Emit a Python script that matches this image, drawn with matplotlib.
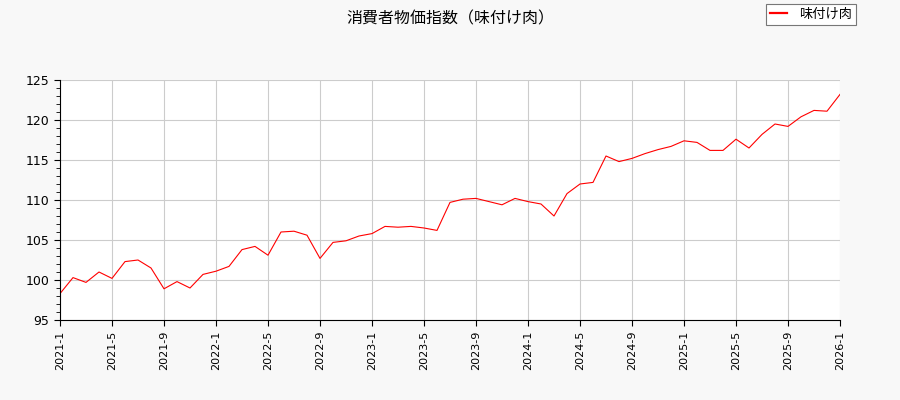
import matplotlib
matplotlib.use("Agg")
import matplotlib.pyplot as plt
from matplotlib.ticker import MultipleLocator

plt.rcParams['font.family'] = ['Noto Sans CJK JP', 'DejaVu Sans']

title = "消費者物価指数（味付け肉）"
series_name = "味付け肉"

# monthly from 2021-1 to 2026-1
months = [f"{2021 + i // 12}-{i % 12 + 1}" for i in range(61)]
values = [
    98.3, 100.3, 99.7, 101.0, 100.2, 102.3, 102.5, 101.5, 98.9, 99.8,
    99.0, 100.7, 101.1, 101.7, 103.8, 104.2, 103.1, 106.0, 106.1, 105.6,
    102.7, 104.7, 104.9, 105.5, 105.8, 106.7, 106.6, 106.7, 106.5, 106.2,
    109.7, 110.1, 110.2, 109.8, 109.4, 110.2, 109.8, 109.5, 108.0, 110.8,
    112.0, 112.2, 115.5, 114.8, 115.2, 115.8, 116.3, 116.7, 117.4, 117.2,
    116.2, 116.2, 117.6, 116.5, 118.2, 119.5, 119.2, 120.4, 121.2, 121.1,
    123.2,
]
tick_labels = [m for i, m in enumerate(months) if i % 4 == 0]

fig = plt.figure(figsize=(9, 4), dpi=100, facecolor="#f8f8f8")
ax = fig.add_axes([60/900, 80/400, 780/900, 240/400])
ax.set_facecolor("white")

x = list(range(len(values)))
ax.plot(x, values, color="red", linewidth=0.8, label=series_name)

ax.set_xlim(0, len(values) - 1)
ax.set_ylim(95, 125)
ax.set_xticks([i for i in x if i % 4 == 0])
ax.set_xticklabels(tick_labels, rotation=90, fontsize=8, family="DejaVu Sans")
ax.yaxis.set_major_locator(MultipleLocator(5))
ax.yaxis.set_minor_locator(MultipleLocator(1))
for lbl in ax.get_yticklabels():
    lbl.set_family("DejaVu Sans")
ax.tick_params(axis="y", labelsize=9)
ax.tick_params(axis="both", which="major", length=4, color="black")
ax.tick_params(axis="y", which="minor", length=3)
ax.grid(True, which="major", color="#cccccc", linewidth=0.8)
ax.set_axisbelow(True)
for s in ("top", "right"):
    ax.spines[s].set_visible(False)

fig.suptitle(title, fontsize=11.5, y=0.975)
leg = fig.legend(loc="upper right", bbox_to_anchor=(0.951, 0.99), borderaxespad=0,
                 fontsize=9.5, fancybox=False, edgecolor="#777777", framealpha=1,
                 handlelength=1.3, handletextpad=0.9, borderpad=0.3)
leg.get_frame().set_linewidth(0.8)
for h in leg.get_lines():
    h.set_linewidth(1.6)

fig.savefig("out.png", dpi=100, facecolor=fig.get_facecolor())
